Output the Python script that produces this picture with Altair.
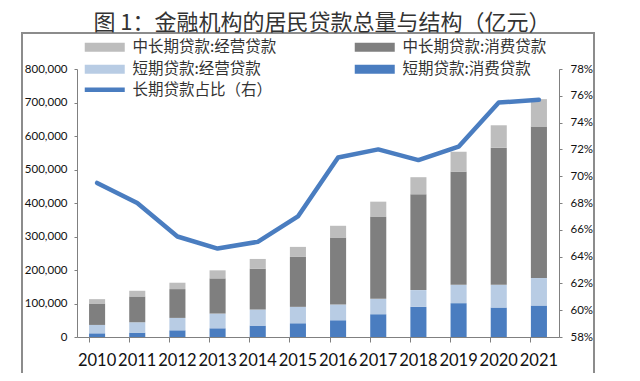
import altair as alt
import pandas as pd

years = ["2010", "2011", "2012", "2013", "2014", "2015", "2016", "2017", "2018", "2019", "2020", "2021"]
short_consumer = [11000, 13000, 20000, 26000, 34000, 41000, 50000, 68000, 90000, 101000, 88000, 94000]
short_business = [25000, 31000, 37000, 44000, 48000, 49000, 47000, 46000, 50000, 55000, 68000, 82000]
long_consumer = [64000, 77000, 86000, 105000, 122000, 149000, 200000, 246000, 286000, 337000, 409000, 452000]
long_business = [13000, 17000, 19000, 24000, 29000, 30000, 35000, 44000, 51000, 60000, 67000, 82000]
long_share = [0.695, 0.680, 0.655, 0.646, 0.651, 0.670, 0.714, 0.720, 0.712, 0.722, 0.755, 0.757]

# legend order (column-major in a 2-column legend)
series_names = ["中长期贷款:经营贷款", "短期贷款:经营贷款", "中长期贷款:消费贷款", "短期贷款:消费贷款"]
series_colors = ["#BDBDBD", "#B8CCE4", "#7F7F7F", "#4A7DC0"]
stack_rank = {"短期贷款:消费贷款": 0, "短期贷款:经营贷款": 1, "中长期贷款:消费贷款": 2, "中长期贷款:经营贷款": 3}
line_name = "长期贷款占比（右）"

rows = []
for i, y in enumerate(years):
    for name, vals in [("短期贷款:消费贷款", short_consumer), ("短期贷款:经营贷款", short_business),
                       ("中长期贷款:消费贷款", long_consumer), ("中长期贷款:经营贷款", long_business)]:
        rows.append({"year": y, "series": name, "value": vals[i], "rank": stack_rank[name]})
bars_df = pd.DataFrame(rows)
line_df = pd.DataFrame({"year": years, "share": long_share, "label": [line_name] * len(years)})

FONT = "Noto Sans CJK SC"
NUMFONT = "Lato"

xenc = alt.X("year:N", title=None, sort=years,
             scale=alt.Scale(paddingInner=0.6, paddingOuter=0.3),
             axis=alt.Axis(labelAngle=0, labelFont=NUMFONT, labelFontSize=16.5, labelColor="#111111",
                           labelPadding=10, tickSize=5, tickColor="#808080", domainColor="#808080",
                           bandPosition=0, grid=False))

bars = alt.Chart(bars_df).mark_bar().encode(
    x=xenc,
    y=alt.Y("value:Q", title=None, stack="zero",
            scale=alt.Scale(domain=[0, 800000], nice=False),
            axis=alt.Axis(values=list(range(0, 800001, 100000)), format=",.0f", labelFont=NUMFONT,
                          labelFontSize=11.5, labelColor="#111111", tickSize=3, labelPadding=7,
                          tickColor="#808080", domainColor="#808080", grid=False)),
    color=alt.Color("series:N", scale=alt.Scale(domain=series_names, range=series_colors),
                    legend=alt.Legend(orient="none", legendX=5, legendY=-30, columns=2, columnPadding=75,
                                      rowPadding=5.5, title=None, padding=0,
                                      symbolType="M-1,-0.9L7,-0.9L7,0.9L-1,0.9Z",
                                      symbolSize=100, symbolStrokeWidth=0, symbolOpacity=1,
                                      labelFont=FONT, labelFontSize=15.5, labelColor="#333333",
                                      labelOffset=35, labelLimit=300)),
    order=alt.Order("rank:Q", sort="ascending"),
)

line = alt.Chart(line_df).mark_line(strokeWidth=4.5, strokeJoin="round", strokeCap="round").encode(
    x=alt.X("year:N", sort=years),
    y=alt.Y("share:Q", title=None,
            scale=alt.Scale(domain=[0.58, 0.78], nice=False, zero=False),
            axis=alt.Axis(orient="right", values=[0.58 + 0.02 * k for k in range(11)], format=".0%",
                          labelFont=NUMFONT, labelFontSize=11.5, labelColor="#111111", tickSize=3,
                          labelPadding=8, tickColor="#808080", domainColor="#808080", grid=False)),
    stroke=alt.Stroke("label:N", scale=alt.Scale(domain=[line_name], range=["#4A7DC0"]),
                      legend=alt.Legend(orient="none", legendX=5, legendY=13, title=None, padding=0,
                                        symbolType="M-1,0L7,0", symbolSize=100, symbolStrokeWidth=4.5,
                                        labelFont=FONT, labelFontSize=15.5, labelColor="#333333",
                                        labelOffset=35, labelLimit=300)),
)

frame = alt.Chart(pd.DataFrame({"a": [0]})).mark_rect(fill="white", fillOpacity=0, stroke="#8C8C8C",
                                                      strokeWidth=2).encode(
    x=alt.value(-55), x2=alt.value(517), y=alt.value(-36), y2=alt.value(309)
)

chart = alt.layer(frame, bars, line).resolve_scale(y="independent", color="independent").properties(
    width=482, height=268,
    autosize=alt.AutoSizeParams(type="none"),
    padding={"left": 69, "top": 61, "right": 73, "bottom": 36},
    title=alt.TitleParams("图 1：金融机构的居民贷款总量与结构（亿元）", font=FONT, fontSize=22,
                          fontWeight="normal", color="#333333", anchor="middle", offset=0, dx=4, dy=3),
).configure_view(stroke=None)

chart.save("out.html", embed_options={"renderer": "svg", "actions": False})
